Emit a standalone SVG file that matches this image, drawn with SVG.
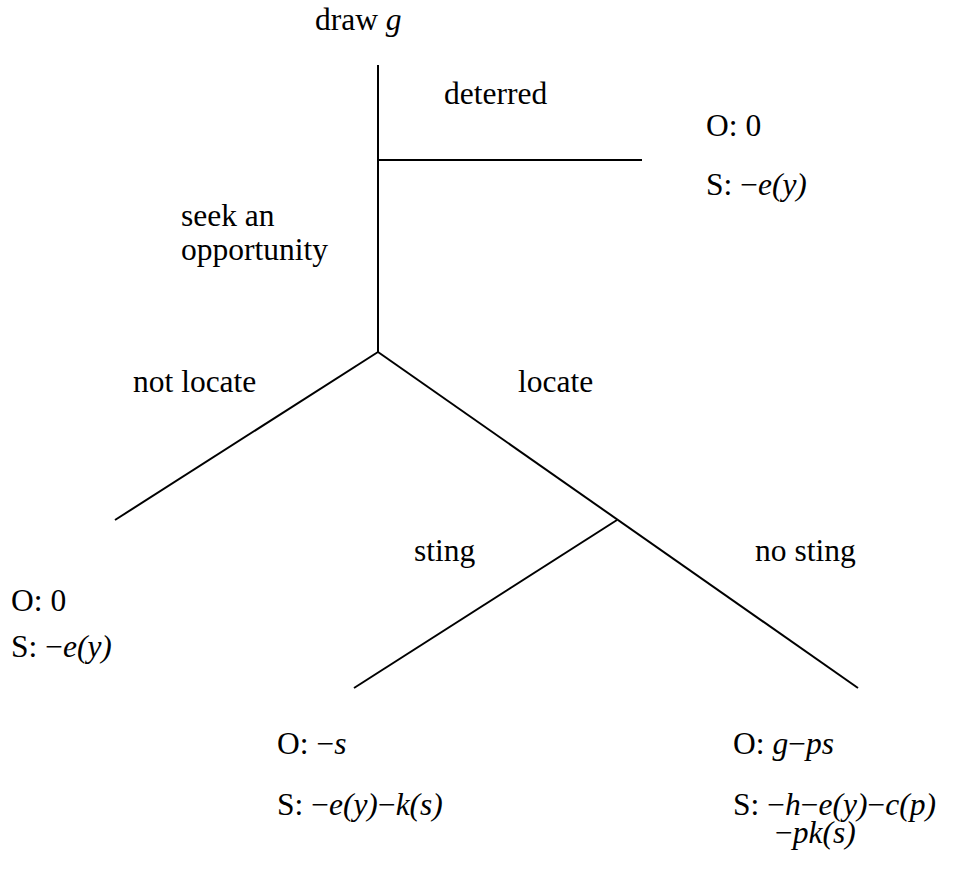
<svg xmlns="http://www.w3.org/2000/svg" width="956" height="873" viewBox="0 0 956 873">
<style>
text{font-family:"Liberation Serif","Times New Roman",serif;font-size:31.5px;fill:#000}
.i{font-style:italic}
.e{stroke:#000;stroke-width:2;fill:none}
</style>
<rect width="956" height="873" fill="#fff"/>
<g id="connectors">
<line class="e" x1="378" y1="65" x2="378" y2="352"/>
<line class="e" x1="378" y1="160" x2="642" y2="160"/>
<line class="e" x1="378" y1="352" x2="115" y2="520"/>
<line class="e" x1="378" y1="352" x2="858" y2="688"/>
<line class="e" x1="617" y1="520" x2="354" y2="688"/>
</g>
<g id="root"><text x="315" y="30">draw <tspan class="i">g</tspan></text></g>
<g id="deterred-label"><text x="444" y="104">deterred</text></g>
<g id="seek-label"><text x="181" y="226">seek an</text><text x="181" y="260">opportunity</text></g>
<g id="leaf-deterred"><text x="706" y="136">O: 0</text><text x="706" y="195">S: −<tspan class="i">e(y)</tspan></text></g>
<g id="notlocate-label"><text x="133" y="392">not locate</text></g>
<g id="locate-label"><text x="518" y="392">locate</text></g>
<g id="leaf-notlocate"><text x="11" y="611">O: 0</text><text x="11" y="657">S: −<tspan class="i">e(y)</tspan></text></g>
<g id="sting-label"><text x="414" y="561">sting</text></g>
<g id="nosting-label"><text x="755" y="561">no sting</text></g>
<g id="leaf-sting"><text x="277" y="754">O: −<tspan class="i">s</tspan></text><text x="277" y="815">S: −<tspan class="i">e(y)</tspan>−<tspan class="i">k(s)</tspan></text></g>
<g id="leaf-nosting"><text x="733" y="754">O: <tspan class="i">g</tspan>−<tspan class="i">ps</tspan></text><text x="733" y="815">S: −<tspan class="i">h</tspan>−<tspan class="i">e(y)</tspan>−<tspan class="i">c(p)</tspan></text><text x="775" y="843">−<tspan class="i">pk(s)</tspan></text></g>
</svg>
